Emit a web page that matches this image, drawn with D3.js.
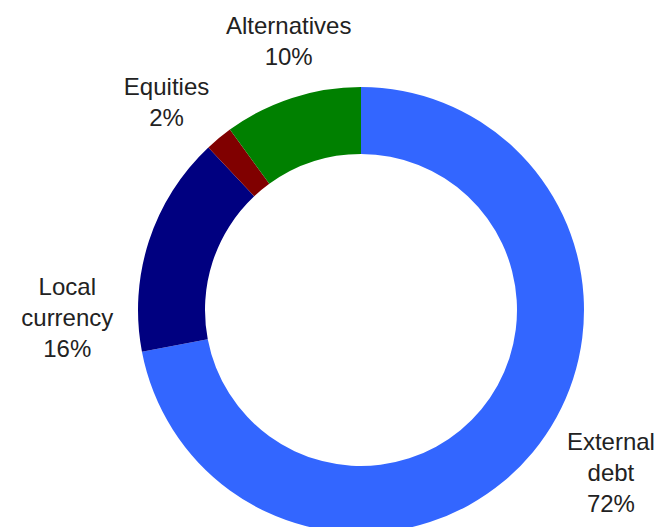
<!DOCTYPE html>
<html>
<head>
<meta charset="utf-8">
<script src="https://cdn.jsdelivr.net/npm/d3@7"></script>
<style>
  html, body { margin: 0; padding: 0; background: #fff; }
  svg { display: block; }
</style>
</head>
<body>
<svg id="chart" width="660" height="527"></svg>
<script>
// Portfolio allocation by asset class (share of total, %)
const categories = ["External debt", "Local currency", "Equities", "Alternatives"];
const shares = [72, 16, 2, 10];
const labelLines = [["External", "debt"], ["Local", "currency"], ["Equities"], ["Alternatives"]];
const sliceColors = ["#3366FF", "#000080", "#800000", "#008000"];

const width = 660, height = 527;
const cx = 361, cy = 310;
const outerR = 223, innerR = 156;

const svg = d3.select("#chart");
const g = svg.append("g").attr("transform", `translate(${cx},${cy})`);

const rows = categories.map((c, i) => ({ name: c, value: shares[i], lines: labelLines[i], color: sliceColors[i] }));

const pie = d3.pie().value(d => d.value).sort(null);
const arc = d3.arc().innerRadius(innerR).outerRadius(outerR);
const arcs = pie(rows);

g.selectAll("path.slice")
  .data(arcs)
  .join("path")
  .attr("class", "slice")
  .attr("d", arc)
  .attr("fill", d => d.data.color);

// Label anchors: distance from centre, an angular nudge and a vertical shift for each text block
const labelPlacement = {
  "External debt": { r: 302, da: -0.095, dy: -7 },
  "Local currency": { r: 294, da: -0.27, dy: 21 },
  "Equities": { r: 279, da: -0.08, dy: -8 },
  "Alternatives": { r: 272, da: 0.045, dy: -7 }
};

const lineH = 31;
const fontSize = 24;

arcs.forEach(a => {
  const p = labelPlacement[a.data.name];
  const mid = (a.startAngle + a.endAngle) / 2 + p.da;
  const x = p.r * Math.sin(mid);
  const y = -p.r * Math.cos(mid) + p.dy;
  const lines = [...a.data.lines, `${d3.format(".0f")(a.data.value)}%`];
  const n = lines.length;
  const t = g.append("text")
    .attr("text-anchor", "middle")
    .attr("font-family", "'Liberation Sans', Arial, sans-serif")
    .attr("font-size", fontSize)
    .attr("fill", "#222");
  lines.forEach((s, i) => {
    t.append("tspan")
      .attr("x", x)
      .attr("y", y + (i - (n - 1) / 2) * lineH + fontSize * 0.35)
      .text(s);
  });
});
</script>
</body>
</html>
